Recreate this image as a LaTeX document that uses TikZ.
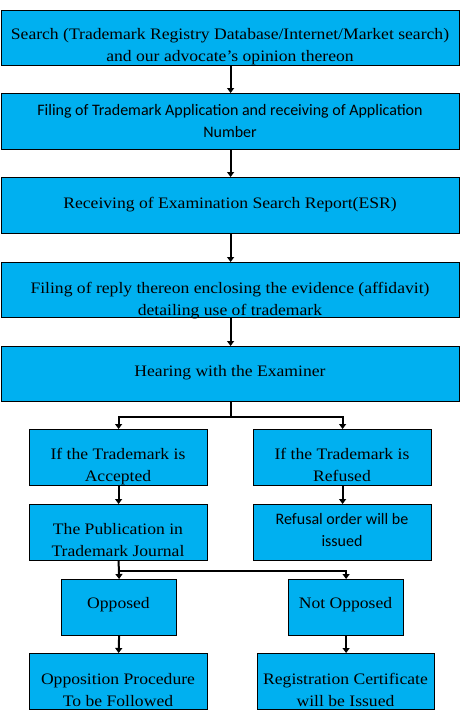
\documentclass[tikz,border=0pt]{standalone}
\usepackage{fontspec}
\setmainfont{Liberation Serif}[FakeStretch=1.1]
\newfontfamily\calfont{Carlito}
\usetikzlibrary{arrows.meta,calc}
\definecolor{boxblue}{RGB}{0,176,240}
\tikzset{
  box/.style={draw=black, line width=1.2pt, fill=boxblue, inner sep=0pt, anchor=north west},
  txt/.style={align=center, font=\fontsize{16}{22}\selectfont, inner sep=0pt, text=black,
    execute at begin node={\strut}, execute at end node={\strut}},
  ctxt/.style={txt, font=\calfont\fontsize{16}{22}\selectfont},
  arr/.style={line width=2pt, -{Triangle[length=5pt,width=7pt]}},
  ln/.style={line width=2pt}
}
\begin{document}
\begin{tikzpicture}[x=1pt,y=-1pt]
\useasboundingbox (0,0) rectangle (460,717);
% boxes
\node[box, minimum width=458pt, minimum height=55pt] (b1) at (1,10) {};
\node[box, minimum width=458pt, minimum height=56pt] (b2) at (1,93) {};
\node[box, minimum width=458pt, minimum height=56pt] (b3) at (1,177) {};
\node[box, minimum width=458pt, minimum height=55pt] (b4) at (1,262) {};
\node[box, minimum width=458pt, minimum height=55pt] (b5) at (1,346) {};
\node[box, minimum width=178pt, minimum height=56pt] (b6) at (29,429) {};
\node[box, minimum width=178pt, minimum height=56pt] (b7) at (253,429) {};
\node[box, minimum width=178pt, minimum height=56pt] (b8) at (29,504) {};
\node[box, minimum width=178pt, minimum height=56pt] (b9) at (253,504) {};
\node[box, minimum width=115pt, minimum height=56pt] (b10) at (61,579) {};
\node[box, minimum width=115pt, minimum height=56pt] (b11) at (288,579) {};
\node[box, minimum width=178pt, minimum height=56pt] (b12) at (29,653) {};
\node[box, minimum width=177pt, minimum height=56pt] (b13) at (257,653) {};
% texts
\begin{scope}
\clip (b1.north west) rectangle (b1.south east);
\node[txt] (t1) at (230,48.5) {Search (Trademark Registry Database/Internet/Market search)\\and our advocate’s opinion thereon};
\end{scope}
\node[ctxt] (t2) at (230,124) {Filing of Trademark Application and receiving of Application\\Number};
\node[txt] (t3) at (230,204) {Receiving of Examination Search Report(ESR)};
\begin{scope}
\clip (b4.north west) rectangle (b4.south east);
\node[txt] (t4) at (230,302.5) {Filing of reply thereon enclosing the evidence (affidavit)\\detailing use of trademark};
\end{scope}
\node[txt] (t5) at (230,371.6) {Hearing with the Examiner};
\node[txt] (t6) at (118,468.3) {If the Trademark is\\Accepted};
\node[txt] (t7) at (342,468.3) {If the Trademark is\\Refused};
\begin{scope}
\clip (b8.north west) rectangle (b8.south east);
\node[txt] (t8) at (118,543.3) {The Publication in\\Trademark Journal};
\end{scope}
\node[ctxt] (t9) at (342,533.3) {Refusal order will be\\issued};
\node[txt] (t10) at (118.5,604.3) {Opposed};
\node[txt] (t11) at (345.5,604.3) {Not Opposed};
\node[txt] (t12) at (118,693.5) {Opposition Procedure\\To be Followed};
\node[txt] (t13) at (345.5,693.5) {Registration Certificate\\will be Issued};
% connectors
\draw[arr] (b1.south) -- (b2.north);
\draw[arr] (b2.south) -- (b3.north);
\draw[arr] (b3.south) -- (b4.north);
\draw[arr] (b4.south) -- (b5.north);
\coordinate (j1) at ($(b5.south)+(0,15)$);
\draw[ln] (b5.south) -- (j1);
\draw[arr] (j1) -| (b6.north);
\draw[arr] (j1) -| (b7.north);
\draw[arr] (b6.south) -- (b8.north);
\draw[arr] (b7.south) -- (b9.north);
\coordinate (j2) at ($(b8.south)+(0,10)$);
\draw[arr] (b8.south) -- (b10.north);
\draw[arr] (j2) -| (b11.north);
\draw[arr] (b10.south) -- (b12.north);
\draw[arr] (b11.south) -- (b13.north);
\end{tikzpicture}
\end{document}
